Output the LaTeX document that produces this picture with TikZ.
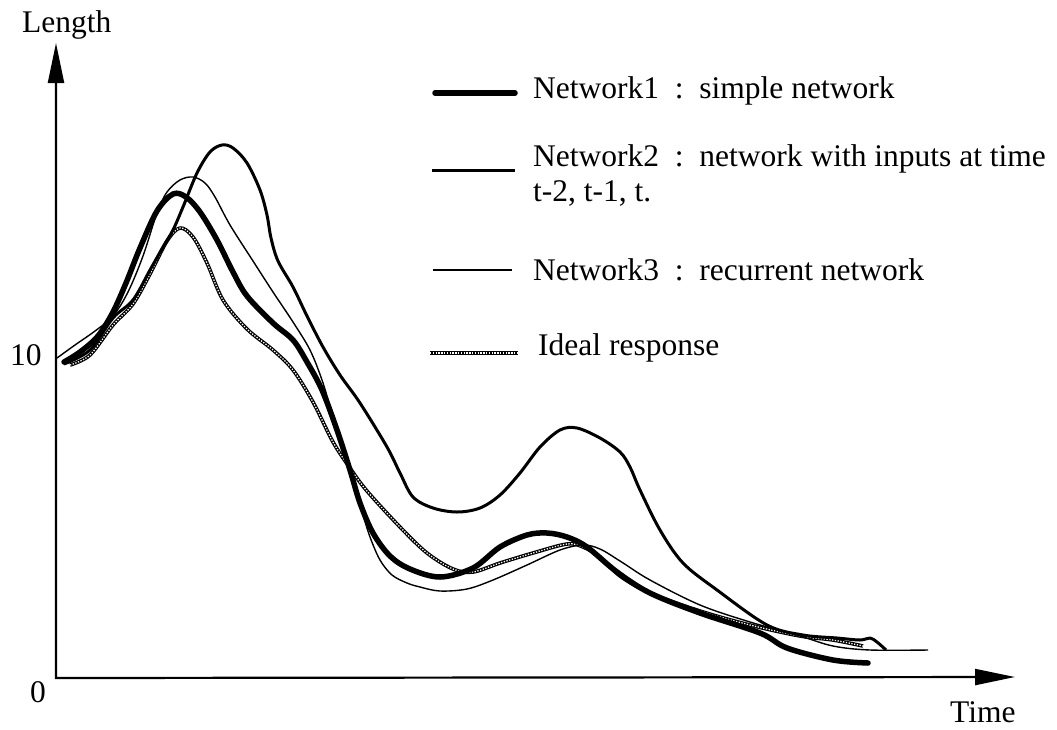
\documentclass[tikz,border=0pt]{standalone}
\usepackage{fontspec}
\setmainfont{Liberation Serif}
\usetikzlibrary{arrows.meta}
\begin{document}
\begin{tikzpicture}[x=1pt,y=-1pt,
  every node/.style={inner sep=0pt, font=\fontsize{31.5}{36}\selectfont},
  axisline/.style={line width=2.2pt,
    {Triangle[length=40pt,width=16pt]}-{Triangle[length=40pt,width=16pt]}},
  netone/.style={line width=5.5pt, line cap=round, line join=round},
  nettwo/.style={line width=3pt, line join=round},
  netthree/.style={line width=1.4pt, line join=round},
  idealresp/.style={line width=3.6pt, line join=round,
    postaction={draw=white, line width=1.3pt, dash pattern=on 1.3pt off 1.5pt}},
  crv/.style={smooth, tension=0.55}]
\useasboundingbox (0,0) rectangle (1057,729);

% axes
\coordinate (O) at (56,678);
\coordinate (ytip) at (56,43);
\coordinate (xtip) at (1015,677);
\draw[axisline] (ytip) -- (O) -- (xtip);

\node[anchor=base west] (ylab) at (22,32) {Length};
\node[anchor=base west] (ten) at (10,365) {10};
\node[anchor=base west] (zero) at (30,702) {0};
\node[anchor=base west] (xlab) at (950,722) {Time};

% ideal response
\draw[idealresp] plot[crv] coordinates {
 (70,365) (90,355) (113,325) (133,304) (150,274) (167,241) (180,228)
 (193,237) (207,263) (223,300) (247,329) (273,350) (293,370) (313,402)
 (333,442) (350,468) (367,491) (400,527) (427,553) (453,569) (473,572)
 (500,563) (533,553) (567,544) (583,547) (600,557) (620,576) (650,593)
 (700,611) (750,625) (800,636) (833,640) (863,646)};

% network 3 : recurrent
\draw[netthree] plot[crv] coordinates {
 (57,358) (75,345) (95,331) (113,316) (128,292) (143,256) (157,213)
 (167,192) (180,180) (193,177) (205,183) (215,197) (230,225) (253,261)
 (273,292) (293,322) (310,350) (322,380) (331,410) (341,445) (352,482)
 (362,512) (370,537) (380,560) (392,575) (407,583) (420,587) (440,591)
 (467,589) (493,580) (527,565) (560,550) (583,545) (600,549) (620,561)
 (650,580) (700,605) (750,622) (800,636) (833,646) (870,650) (928,650)};

% network 2 : inputs at t-2, t-1, t
\draw[nettwo] plot[crv] coordinates {
 (64,364) (90,350) (113,318) (133,300) (150,270) (163,247) (173,230)
 (183,207) (197,173) (210,152) (222,145) (233,148) (247,163) (260,190)
 (267,215) (271,238) (278,261) (293,287) (307,316) (323,347) (340,375)
 (360,403) (387,447) (400,473) (413,497) (433,508) (457,512) (480,508)
 (500,495) (520,473) (540,447) (560,430) (577,428) (600,438) (620,452)
 (630,467) (640,490) (660,530) (683,563) (717,590) (767,625) (803,635)
 (837,638) (860,640) (870,638) (877,642) (886,650)};

% network 1 : simple
\draw[netone] plot[crv] coordinates {
 (64,362) (80,352) (98,336) (113,312) (126,283) (140,248) (157,211)
 (173,194) (186,197) (200,212) (217,240) (233,272) (247,296) (273,323)
 (293,340) (307,362) (322,390) (337,430) (350,470) (360,503) (373,533)
 (390,556) (410,569) (440,577) (473,568) (500,547) (527,535) (547,533)
 (567,537) (587,547) (617,572) (650,593) (700,613) (760,633) (787,648)
 (833,660) (868,663)};

% legend
\draw[netone] (435,93) -- (515,93);
\node[anchor=base west] (l1) at (533,98) {Network1~~:~~simple network};
\draw[nettwo] (432,170) -- (515,170);
\node[anchor=base west] (l2) at (533,166) {Network2~~:~~network with inputs at time};
\node[anchor=base west] (l2b) at (533,201) {t-2, t-1, t.};
\draw[netthree] (433,270) -- (512,270);
\node[anchor=base west] (l3) at (533,280) {Network3~~:~~recurrent network};
\draw[idealresp] (430,353) -- (518,353);
\node[anchor=base west] (l4) at (538,355) {Ideal response};
\end{tikzpicture}
\end{document}
